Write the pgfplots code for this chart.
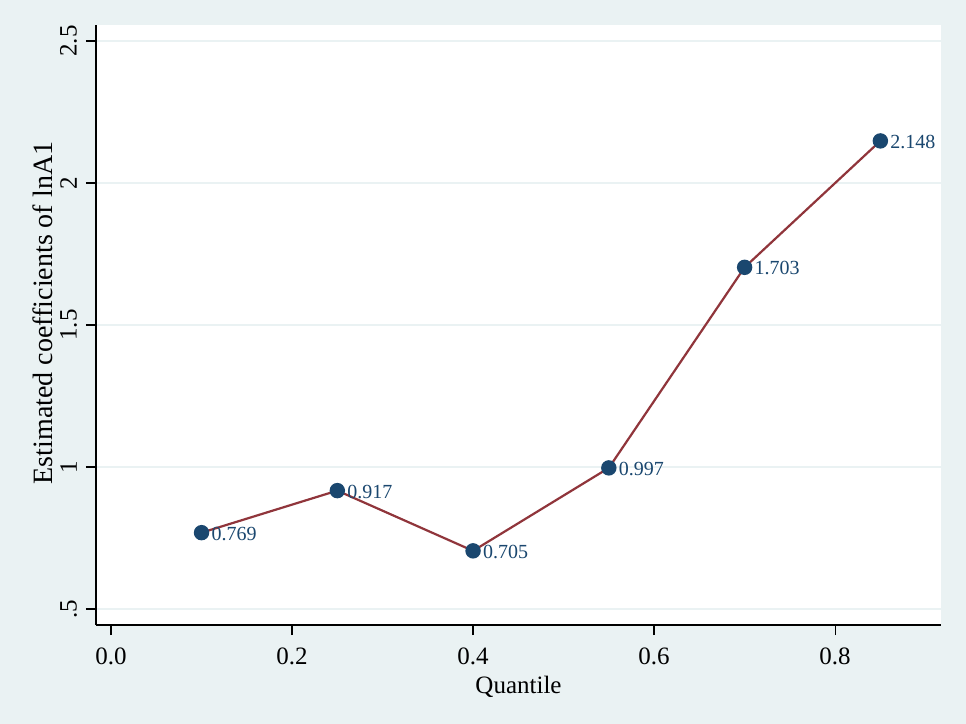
\documentclass[border=0pt]{standalone}
\usepackage{pgfplots}
\pgfplotsset{compat=1.18}
\usepackage{fontspec}
\setmainfont{Liberation Serif}
\definecolor{bg}{HTML}{EAF2F3}
\definecolor{gridc}{HTML}{EAF2F3}
\definecolor{navy}{HTML}{1A476F}
\definecolor{maroon}{HTML}{90353B}
\begin{document}
\begin{tikzpicture}
\fill[bg] (0,0) rectangle (483pt,362pt);
\useasboundingbox (0,0) rectangle (483pt,362pt);
\begin{axis}[
  at={(48pt,49.5pt)}, anchor=south west,
  scale only axis, width=422.5pt, height=300pt,
  xmin=-0.0166, xmax=0.917, ymin=0.444, ymax=2.556,
  axis lines*=left, axis line style={black, line width=0.6pt},
  axis background/.style={fill=white},
  tick align=outside, major tick length=5pt,
  tick style={black, line width=0.6pt},
  xtick={0,0.2,0.4,0.6,0.8},
  xticklabels={0.0,0.2,0.4,0.6,0.8},
  ytick={0.5,1,1.5,2,2.5},
  yticklabels={.5,1,1.5,2,2.5},
  xmajorgrids=false, ymajorgrids=true,
  major grid style={draw=gridc, line width=1pt},
  ticklabel style={font=\fontsize{12.5}{14}\selectfont},
  xticklabel style={yshift=-3pt},
  yticklabel style={rotate=90, anchor=south, yshift=1pt},
  xlabel={Quantile}, ylabel={Estimated coefficients of lnA1},
  xlabel style={font=\fontsize{12.5}{14}\selectfont, yshift=1.5pt},
  ylabel style={font=\fontsize{14}{16}\selectfont, yshift=-3pt, xshift=6pt},
  clip=false,
]
\addplot[maroon, line width=1.1pt, mark=*, mark size=3.3pt,
  mark options={fill=navy, draw=navy},
  point meta=explicit symbolic,
  nodes near coords,
  nodes near coords style={anchor=west, text=navy, font=\fontsize{10}{12}\selectfont, inner sep=1.5pt, xshift=3pt, yshift=-0.5pt},
] table[meta=lab] {
x y lab
0.10 0.769 0.769
0.25 0.917 0.917
0.40 0.705 0.705
0.55 0.997 0.997
0.70 1.703 1.703
0.85 2.148 2.148
};
\end{axis}
\end{tikzpicture}
\end{document}
